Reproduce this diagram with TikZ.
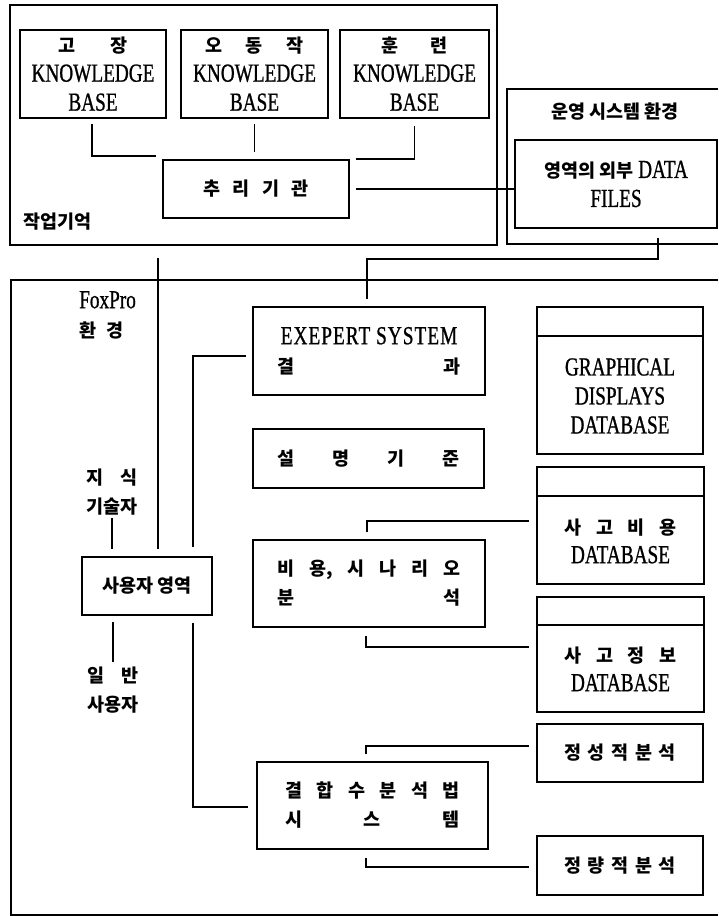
\documentclass[tikz,border=0pt]{standalone}
\usepackage{fontspec}
\setmainfont{Liberation Serif}[FakeStretch=0.74, FakeBold=0.8]
\newfontfamily\krfont{Noto Sans CJK KR}
\newcommand{\hangul}[1]{{\krfont\bfseries\fontsize{18.5}{29}\selectfont #1}}
\usetikzlibrary{positioning,calc}

\begin{document}
\begin{tikzpicture}[x=1pt, y=-1pt,
    box/.style={rectangle, draw, line width=1.8pt, inner sep=0pt, align=center, font=\fontsize{26}{29}\selectfont},
    kbbox/.style={box, minimum height=88pt},
    midbox/.style={box, minimum width=232pt},
    dbbox/.style={box, minimum width=167pt},
    txt/.style={inner sep=0pt, align=center, font=\fontsize{26}{29}\selectfont},
    frame/.style={line width=1.6pt},
    link/.style={line width=1.8pt}
]
\useasboundingbox (0,0) rectangle (718,916);

% working memory
\draw[frame] (10,5) rectangle (497,245);
\node[kbbox, minimum width=146pt] (kb1) at (93,74) {\hangul{\makebox[69pt][s]{고\hfill 장}}\\KNOWLEDGE\\BASE};
\node[kbbox, minimum width=147pt] (kb2) at (254.5,74) {\hangul{\makebox[99pt][s]{오\hfill 동\hfill 작}}\\KNOWLEDGE\\BASE};
\node[kbbox, minimum width=149pt] (kb3) at (414.5,74) {\hangul{\makebox[67pt][s]{훈\hfill 련}}\\KNOWLEDGE\\BASE};
\node[box, minimum width=186pt, minimum height=58pt] (infer) at (256,189) {\hangul{\makebox[106pt][s]{추\hfill 리\hfill 기\hfill 관}}};
\node[txt, anchor=west] (memlbl) at (23,222) {\hangul{작업기억}};
\draw[link] ([xshift=-1pt,yshift=-5pt]kb1.south) |- ([xshift=-6pt,yshift=3pt]infer.north west);
\draw[link, shorten <=5pt, shorten >=7pt] (kb2.south) -- (kb2.south |- infer.north);
\draw[link] ([yshift=-7pt]kb3.south) |- ([xshift=6pt]infer.north east);

% operating system
\draw[frame] (718,89) -| (507,244) -- (718,244);
\node[txt] (oslbl) at (615,112) {\hangul{운영 시스템 환경}};
\node[box, minimum width=202pt, minimum height=88pt] (datafiles) at (616,184) {\hangul{영역의 외부} DATA\\FILES};
\draw[link, shorten <=6pt] (infer.east) -- (infer.east -| datafiles.west);

% FoxPro
\draw[frame] (718,280) -| (11,915) -- (718,915);
\node[txt, align=left, anchor=west] (foxlbl) at (79,315) {FoxPro\\\hangul{환\hspace{0.55em}경}};
\node[box, minimum width=130pt, minimum height=58pt] (user) at (147,586) {\hangul{사용자 영역}};
\node[txt] (engineer) at (112,492) {\hangul{\makebox[52pt][s]{지\hfill 식}}\\\hangul{기술자}};
\node[txt] (enduser) at (113,690) {\hangul{\makebox[52pt][s]{일\hfill 반}}\\\hangul{사용자}};
\coordinate (wmtap) at (158,258);
\draw[link, shorten >=7pt] (wmtap) -- (wmtap |- user.north);
\draw[link, shorten <=3pt, shorten >=7pt] (engineer.south) -- (engineer.south |- user.north);
\draw[link, shorten <=6pt, shorten >=5pt] (enduser.north |- user.south) -- (enduser.north);

\node[midbox, minimum height=88pt] (expert) at (369,351) {{\addfontfeatures{LetterSpace=4}EXEPERT SYSTEM}\\\hangul{\makebox[183pt][s]{결\hfill 과}}};
\node[box, minimum width=231pt, minimum height=59pt] (explain) at (368.5,458.5) {\hangul{\makebox[183pt][s]{설\hfill 명\hfill 기\hfill 준}}};
\node[midbox, minimum height=87pt] (cost) at (369,583.5) {\hangul{\makebox[183pt][s]{비\hfill 용,\hfill 시\hfill 나\hfill 리\hfill 오}}\\\hangul{\makebox[183pt][s]{분\hfill 석}}};
\node[box, minimum width=231pt, minimum height=87pt] (fta) at (372.5,805.5) {\hangul{\makebox[175pt][s]{결\hfill 합\hfill 수\hfill 분\hfill 석\hfill 법}}\\\hangul{\makebox[175pt][s]{시\hfill 스\hfill 템}}};

\draw[link] ([xshift=42pt,yshift=-9pt]datafiles.south) -- ++(0,21) -| ([xshift=-2pt,yshift=7pt]expert.north);
\draw[link] ([xshift=-6pt,yshift=-5pt]expert.west) -| ([xshift=46pt,yshift=9pt]user.north);
\draw[link] ([xshift=46pt,yshift=-7pt]user.south) |- ([xshift=-8pt,yshift=-1.5pt]fta.west);

% databases
\node[dbbox, minimum width=166pt, minimum height=147pt] (graphdb) at (620,380.5) {};
\draw[link] ([yshift=-30pt]graphdb.north west) -- ([yshift=-30pt]graphdb.north east);
\node[txt] (graphtxt) at (620,396) {GRAPHICAL\\DISPLAYS\\DATABASE};
\node[dbbox, minimum height=117pt] (costdb) at (620.5,525.5) {};
\draw[link] ([yshift=-30pt]costdb.north west) -- ([yshift=-30pt]costdb.north east);
\node[txt] (costtxt) at (620.5,541) {\hangul{\makebox[112pt][s]{사\hfill 고\hfill 비\hfill 용}}\\DATABASE};
\node[dbbox, minimum height=115pt] (infodb) at (620.5,654.5) {};
\draw[link] ([yshift=-29pt]infodb.north west) -- ([yshift=-29pt]infodb.north east);
\node[txt] (infotxt) at (620.5,669) {\hangul{\makebox[112pt][s]{사\hfill 고\hfill 정\hfill 보}}\\DATABASE};
\node[box, minimum width=166pt, minimum height=58pt] (qual) at (620,753) {\hangul{\makebox[112pt][s]{정\hfill 성\hfill 적\hfill 분\hfill 석}}};
\node[box, minimum width=166pt, minimum height=59pt] (quant) at (620,865.5) {\hangul{\makebox[112pt][s]{정\hfill 량\hfill 적\hfill 분\hfill 석}}};

\draw[link] ([xshift=-2pt,yshift=7pt]cost.north) |- ([xshift=-7pt,yshift=4.5pt]costdb.west);
\draw[link] ([xshift=-3pt,yshift=-8pt]cost.south) |- ([xshift=-7pt,yshift=7.5pt]infodb.west);
\draw[link] ([xshift=-6.5pt,yshift=7pt]fta.north) |- ([xshift=-7pt,yshift=7pt]qual.west);
\draw[link] ([xshift=-6.5pt,yshift=-8pt]fta.south) |- ([xshift=-7pt,yshift=-1.5pt]quant.west);

\end{tikzpicture}
\end{document}
